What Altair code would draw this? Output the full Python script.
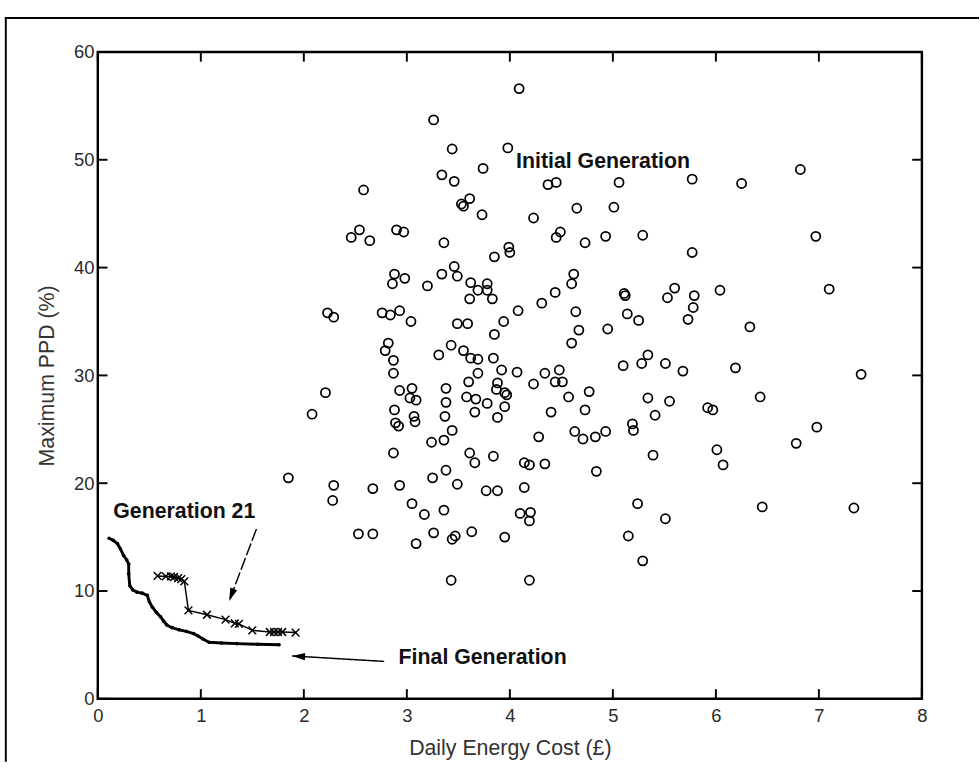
import math

import altair as alt
import pandas as pd

FONT = "Liberation Sans"

# Initial (random) generation: daily energy cost (£) and maximum PPD (%)
init_cost = [
    1.85, 2.08, 2.21, 2.23, 2.29, 2.29, 2.28, 2.46, 2.54, 2.64, 2.58, 2.53, 2.67, 2.67,
    2.76, 2.84, 2.93, 3.04, 2.90, 2.97,
    2.88, 2.98, 2.86, 2.82, 2.79, 2.87, 2.87, 2.93, 2.88, 2.89, 2.92, 2.87, 2.93,
    3.05, 3.03, 3.09, 3.07, 3.08, 3.05, 3.17, 3.09,
    3.20, 3.26, 3.34, 3.46, 3.44, 3.36, 3.46, 3.34, 3.49, 3.31, 3.43, 3.55, 3.62, 3.69,
    3.38, 3.38, 3.37, 3.24, 3.44, 3.36, 3.25, 3.38, 3.49, 3.36, 3.26, 3.44, 3.47, 3.43,
    3.49, 3.59, 3.62, 3.61, 3.53, 3.55, 3.61, 3.60, 3.58, 3.67, 3.66, 3.61, 3.66, 3.63, 3.69,
    3.73, 3.74, 3.78, 3.78, 3.69, 3.83, 3.85, 3.99, 4.00, 3.84, 3.92, 3.88, 3.87,
    3.95, 3.97, 3.78, 3.95, 3.88, 3.84, 3.77, 3.88, 3.94, 3.85, 3.95, 3.98,
    4.08, 4.07, 4.09, 4.14, 4.19, 4.14, 4.10, 4.20, 4.19, 4.19, 4.23, 4.23, 4.28, 4.31,
    4.34, 4.34, 4.37, 4.45, 4.40, 4.44, 4.45, 4.49, 4.48, 4.44, 4.51, 4.57, 4.62, 4.60,
    4.64, 4.67, 4.60, 4.63, 4.71, 4.65, 4.73, 4.73, 4.77, 4.83, 4.84, 4.93, 4.93, 4.95,
    5.01, 5.06, 5.10, 5.11, 5.12, 5.14, 5.25, 5.15, 5.19, 5.20, 5.28, 5.34, 5.24, 5.29,
    5.29, 5.51, 5.68, 5.34, 5.55, 5.41, 5.39, 5.51, 5.53, 5.60, 5.77, 5.73, 5.78, 5.79,
    5.77, 5.92, 5.97,
    6.04, 6.01, 6.07, 6.19, 6.25, 6.33, 6.43, 6.45, 6.78, 6.82, 6.97, 6.98, 7.10, 7.34, 7.41,
]
init_ppd = [
    20.5, 26.4, 28.4, 35.8, 35.4, 19.8, 18.4, 42.8, 43.5, 42.5, 47.2, 15.3, 15.3, 19.5,
    35.8, 35.6, 36.0, 35.0, 43.5, 43.3,
    39.4, 39.0, 38.5, 33.0, 32.3, 31.4, 30.2, 28.6, 26.8, 25.6, 25.3, 22.8, 19.8,
    28.8, 27.9, 27.7, 26.2, 25.7, 18.1, 17.1, 14.4,
    38.3, 53.7, 48.6, 48.0, 51.0, 42.3, 40.1, 39.4, 39.2, 31.9, 32.8, 32.3, 31.6, 31.5,
    28.8, 27.5, 26.2, 23.8, 24.9, 24.0, 20.5, 21.2, 19.9, 17.5, 15.4, 14.8, 15.1, 11.0,
    34.8, 34.8, 38.6, 37.1, 45.9, 45.7, 46.4, 29.4, 28.0, 27.8, 26.6, 22.8, 21.9, 15.5, 30.2,
    44.9, 49.2, 38.5, 37.9, 37.9, 37.1, 41.0, 41.9, 41.4, 31.6, 30.5, 29.3, 28.7,
    28.4, 28.2, 27.4, 27.1, 26.1, 22.5, 19.3, 19.3, 35.0, 33.8, 15.0, 51.1,
    36.0, 30.3, 56.6, 21.9, 21.7, 19.6, 17.2, 17.3, 16.5, 11.0, 44.6, 29.2, 24.3, 36.7,
    30.2, 21.8, 47.7, 47.9, 26.6, 37.7, 42.8, 43.3, 30.5, 29.4, 29.4, 28.0, 39.4, 38.5,
    35.9, 34.2, 33.0, 24.8, 24.1, 45.5, 42.3, 26.8, 28.5, 24.3, 21.1, 24.8, 42.9, 34.3,
    45.6, 47.9, 30.9, 37.6, 37.4, 35.7, 35.1, 15.1, 25.5, 24.9, 31.1, 31.9, 18.1, 12.8,
    43.0, 31.1, 30.4, 27.9, 27.6, 26.3, 22.6, 16.7, 37.2, 38.1, 48.2, 35.2, 36.3, 37.4,
    41.4, 27.0, 26.8,
    37.9, 23.1, 21.7, 30.7, 47.8, 34.5, 28.0, 17.8, 23.7, 49.1, 42.9, 25.2, 38.0, 17.7, 30.1,
]
assert len(init_cost) == len(init_ppd)

# Non-dominated front of the final generation
final_cost = [0.11, 0.15, 0.19, 0.22, 0.25, 0.28, 0.30, 0.30, 0.31, 0.34, 0.38, 0.43,
              0.48, 0.50, 0.53, 0.57, 0.61, 0.64, 0.67, 0.72, 0.79, 0.86, 0.93, 0.97,
              1.02, 1.08, 1.20, 1.35, 1.55, 1.76]
final_ppd = [14.9, 14.7, 14.4, 13.9, 13.3, 12.9, 12.5, 11.6, 10.5, 10.1, 9.9, 9.8,
             9.6, 9.0, 8.5, 8.0, 7.6, 7.2, 6.85, 6.6, 6.4, 6.25, 6.05, 5.85,
             5.55, 5.25, 5.18, 5.12, 5.06, 5.02]

# Non-dominated front reached at generation 21
gen21_cost = [0.58, 0.66, 0.71, 0.74, 0.78, 0.81, 0.84, 0.88, 1.06, 1.24, 1.33, 1.37,
              1.50, 1.67, 1.71, 1.75, 1.79, 1.92]
gen21_ppd = [11.4, 11.35, 11.35, 11.3, 11.2, 11.1, 10.9, 8.2, 7.8, 7.35, 7.0, 6.95,
             6.35, 6.2, 6.2, 6.2, 6.2, 6.15]

x_ticks = [0, 1, 2, 3, 4, 5, 6, 7, 8]
y_ticks = [0, 10, 20, 30, 40, 50, 60]

# Annotation texts and their anchor points (left edge, baseline)
note_text = ["Initial Generation", "Generation 21", "Final Generation"]
note_cost = [4.06, 0.15, 2.92]
note_ppd = [49.24, 16.74, 3.23]

# Arrows: tail and tip for each annotated front
arrow_name = ["Generation 21", "Final Generation"]
arrow_tail_cost = [1.54, 2.78]
arrow_tail_ppd = [15.75, 3.47]
arrow_tip_cost = [1.275, 1.886]
arrow_tip_ppd = [9.07, 3.98]

W, H = 851, 668
PAD_L, PAD_T, PAD_R, PAD_B = 101, 41, 60, 66
X_MAX, Y_MAX = 8, 60

xs = alt.Scale(domain=[0, X_MAX], nice=False, zero=False)
ys = alt.Scale(domain=[0, Y_MAX], nice=False, zero=False)

init_df = pd.DataFrame({"cost": init_cost, "ppd": init_ppd})
final_df = pd.DataFrame({"cost": final_cost, "ppd": final_ppd})
gen21_df = pd.DataFrame({"cost": gen21_cost, "ppd": gen21_ppd})
note_df = pd.DataFrame({"cost": note_cost, "ppd": note_ppd, "text": note_text})

shaft_rows = []
head_rows = []
for i, name in enumerate(arrow_name):
    shaft_rows.append({"arrow": name, "order": 0, "cost": arrow_tail_cost[i], "ppd": arrow_tail_ppd[i]})
    shaft_rows.append({"arrow": name, "order": 1, "cost": arrow_tip_cost[i], "ppd": arrow_tip_ppd[i]})
    dx = (arrow_tip_cost[i] - arrow_tail_cost[i]) * W / X_MAX
    dy = -(arrow_tip_ppd[i] - arrow_tail_ppd[i]) * H / Y_MAX
    ang = math.degrees(math.atan2(dx, -dy)) % 360
    head_rows.append({"arrow": name, "cost": arrow_tip_cost[i], "ppd": arrow_tip_ppd[i], "angle": ang})
shaft_df = pd.DataFrame(shaft_rows)
head_df = pd.DataFrame(head_rows)

x_axis = alt.Axis(
    values=x_ticks, format="d", ticks=False, domain=False, grid=False, labelFlush=False,
    labelFont=FONT, labelFontSize=19, labelColor="#2a2a2a", labelPadding=8,
    title="Daily Energy Cost (£)", titleFont=FONT, titleFontSize=22,
    titleFontWeight="normal", titleColor="#333333",
    titleX=W / 2, titleY=51, titleAlign="center", titleBaseline="middle",
)
y_axis = alt.Axis(
    values=y_ticks, format="d", ticks=False, domain=False, grid=False, labelFlush=False,
    labelFont=FONT, labelFontSize=19, labelColor="#2a2a2a", labelPadding=4,
    title="Maximum PPD (%)", titleFont=FONT, titleFontSize=22,
    titleFontWeight="normal", titleColor="#333333",
    titleX=-53, titleY=H / 2, titleAlign="center", titleBaseline="middle",
)


def X(ax=None):
    if ax is None:
        return alt.X("cost:Q", scale=xs)
    return alt.X("cost:Q", scale=xs, axis=ax)


def Y(ax=None):
    if ax is None:
        return alt.Y("ppd:Q", scale=ys)
    return alt.Y("ppd:Q", scale=ys, axis=ax)


scatter = alt.Chart(init_df).mark_point(
    shape="circle", filled=False, size=88, strokeWidth=1.8, color="black", opacity=1
).encode(x=X(x_axis), y=Y(y_axis))

final_line = alt.Chart(final_df).mark_line(
    color="black", strokeWidth=3, strokeJoin="round"
).encode(x=X(), y=Y())
final_dots = alt.Chart(final_df).mark_point(
    shape="circle", filled=True, size=14, color="black", opacity=1
).encode(x=X(), y=Y())

gen21_line = alt.Chart(gen21_df).mark_line(
    color="black", strokeWidth=1.5
).encode(x=X(), y=Y())
gen21_marks = alt.Chart(gen21_df).mark_point(
    shape="M-1,-1L1,1M-1,1L1,-1", filled=False, size=64, strokeWidth=1.5,
    color="black", opacity=1
).encode(x=X(), y=Y())

shafts = alt.Chart(shaft_df).mark_line(color="black", strokeWidth=1.5).encode(
    x=X(), y=Y(), detail="arrow:N", order="order:Q",
    strokeDash=alt.StrokeDash(
        "arrow:N",
        scale=alt.Scale(domain=arrow_name, range=[[13, 3], [1, 0]]),
        legend=None,
    ),
)
heads = alt.Chart(head_df).mark_point(
    shape="M0,0L-0.28,1L0.28,1Z", filled=True, size=720, color="black", opacity=1
).encode(x=X(), y=Y(), angle=alt.Angle("angle:Q", scale=None))

notes = alt.Chart(note_df).mark_text(
    align="left", baseline="alphabetic", font=FONT, fontSize=22,
    fontWeight="bold", color="#111111"
).encode(x=X(), y=Y(), text="text:N")

# Inward-pointing ticks on all four sides of the frame
xt_df = pd.DataFrame({"cost": x_ticks})
yt_df = pd.DataFrame({"ppd": y_ticks})
TL = 10
tick_style = dict(color="black", strokeWidth=2)
ticks_bottom = alt.Chart(xt_df).mark_rule(**tick_style).encode(
    x=X(), y=alt.value(H), y2=alt.value(H - TL))
ticks_top = alt.Chart(xt_df).mark_rule(**tick_style).encode(
    x=X(), y=alt.value(0), y2=alt.value(TL))
ticks_left = alt.Chart(yt_df).mark_rule(**tick_style).encode(
    y=Y(), x=alt.value(0), x2=alt.value(TL))
ticks_right = alt.Chart(yt_df).mark_rule(**tick_style).encode(
    y=Y(), x=alt.value(W), x2=alt.value(W - TL))

# Surrounding figure box, top and left edges, drawn as thin filled bars
one = pd.DataFrame({"k": [0]})
edge_style = dict(color="black", strokeWidth=0, opacity=1)
edge_top = alt.Chart(one).mark_rect(**edge_style).encode(
    x=alt.value(-96), x2=alt.value(W + PAD_R - 1),
    y=alt.value(-36), y2=alt.value(-34))
edge_left = alt.Chart(one).mark_rect(**edge_style).encode(
    x=alt.value(-96), x2=alt.value(-94),
    y=alt.value(-36), y2=alt.value(H + PAD_B - 1))

chart = alt.layer(
    edge_top, edge_left, scatter, final_line, final_dots, gen21_line, gen21_marks,
    shafts, heads, notes, ticks_bottom, ticks_top, ticks_left, ticks_right,
).properties(
    width=W, height=H,
    autosize=alt.AutoSizeParams(type="none"),
    padding={"left": PAD_L, "top": PAD_T, "right": PAD_R, "bottom": PAD_B},
    background="white",
).configure_view(stroke="black", strokeWidth=2.5)

chart.save("out.html", embed_options={"renderer": "svg", "actions": False})
